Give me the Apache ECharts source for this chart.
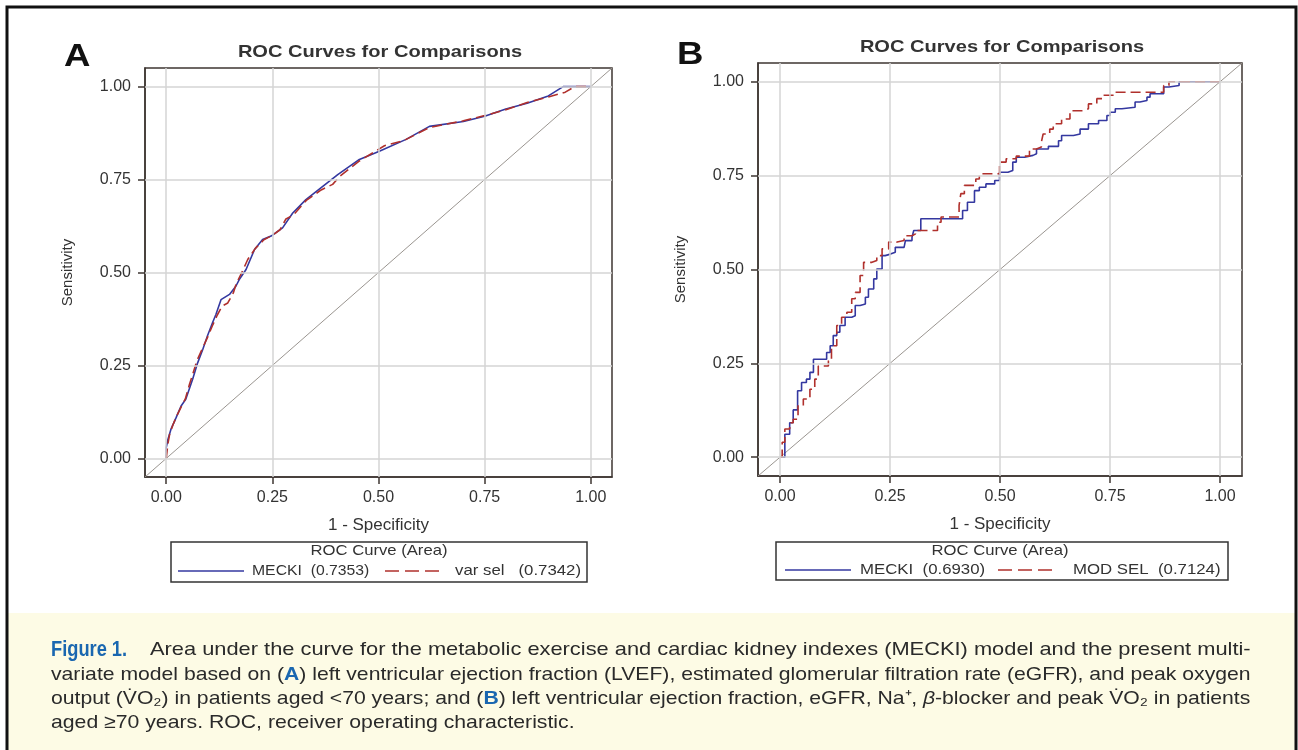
<!DOCTYPE html>
<html><head><meta charset="utf-8">
<script src="https://cdn.jsdelivr.net/npm/echarts@6/dist/echarts.min.js"></script>
<style>html,body{margin:0;padding:0;background:#fff}#c{width:1298px;height:750px}</style>
</head><body><div id="c"></div>
<script>
// ---- data ----
const tickValues = [0, 0.25, 0.5, 0.75, 1];
const diagonal = [[-0.05, -0.05], [1.05, 1.05]];
// Panel A (age < 70)
const mecA = [[0,0],[0,0.029],[0.004,0.051],[0.011,0.078],[0.023,0.109],[0.035,0.141],[0.046,0.159],[0.062,0.212],[0.074,0.257],[0.086,0.293],[0.097,0.329],[0.109,0.365],[0.117,0.387],[0.129,0.427],[0.149,0.441],[0.164,0.463],[0.172,0.481],[0.188,0.508],[0.208,0.562],[0.227,0.589],[0.247,0.598],[0.274,0.620],[0.298,0.660],[0.329,0.696],[0.365,0.728],[0.404,0.763],[0.455,0.804],[0.502,0.826],[0.565,0.858],[0.620,0.893],[0.700,0.906],[0.750,0.920],[0.800,0.940],[0.850,0.955],[0.900,0.975],[0.935,1.0],[1,1]];
const varSelA = [[0,0],[0.004,0.040],[0.008,0.065],[0.015,0.088],[0.025,0.115],[0.035,0.138],[0.045,0.160],[0.055,0.200],[0.062,0.225],[0.072,0.262],[0.085,0.295],[0.097,0.325],[0.110,0.360],[0.120,0.385],[0.132,0.410],[0.145,0.418],[0.158,0.445],[0.165,0.470],[0.178,0.500],[0.192,0.535],[0.210,0.565],[0.230,0.588],[0.250,0.600],[0.268,0.615],[0.282,0.644],[0.300,0.655],[0.330,0.694],[0.365,0.722],[0.392,0.737],[0.410,0.760],[0.455,0.800],[0.514,0.841],[0.560,0.855],[0.620,0.890],[0.700,0.908],[0.750,0.922],[0.800,0.938],[0.850,0.957],[0.900,0.972],[0.940,0.985],[0.962,1.0],[1,1]];
// Panel B (age >= 70)
const mecB = [[0,0],[0.011,0.061],[0.022,0.092],[0.030,0.126],[0.040,0.177],[0.049,0.199],[0.060,0.208],[0.068,0.226],[0.076,0.261],[0.106,0.279],[0.114,0.297],[0.121,0.324],[0.129,0.333],[0.136,0.351],[0.148,0.373],[0.163,0.377],[0.171,0.404],[0.182,0.408],[0.194,0.426],[0.201,0.448],[0.213,0.475],[0.220,0.501],[0.232,0.537],[0.239,0.541],[0.251,0.546],[0.262,0.559],[0.282,0.564],[0.285,0.577],[0.300,0.586],[0.304,0.604],[0.320,0.635],[0.415,0.657],[0.426,0.679],[0.442,0.710],[0.453,0.719],[0.468,0.728],[0.488,0.737],[0.499,0.759],[0.518,0.764],[0.529,0.786],[0.537,0.799],[0.556,0.804],[0.575,0.808],[0.583,0.821],[0.610,0.828],[0.633,0.843],[0.640,0.857],[0.667,0.861],[0.682,0.874],[0.701,0.888],[0.724,0.897],[0.743,0.910],[0.750,0.919],[0.762,0.928],[0.777,0.932],[0.807,0.946],[0.818,0.950],[0.834,0.959],[0.841,0.968],[0.872,0.986],[0.884,0.990],[0.907,1.0],[1,1]];
const modSelB = [[0,0],[0.005,0.040],[0.011,0.075],[0.022,0.092],[0.030,0.101],[0.041,0.137],[0.053,0.155],[0.068,0.181],[0.079,0.208],[0.087,0.243],[0.110,0.257],[0.117,0.297],[0.129,0.351],[0.140,0.373],[0.152,0.386],[0.163,0.422],[0.171,0.439],[0.182,0.484],[0.190,0.519],[0.209,0.524],[0.220,0.537],[0.232,0.555],[0.247,0.573],[0.266,0.577],[0.282,0.590],[0.300,0.595],[0.308,0.604],[0.358,0.626],[0.366,0.640],[0.407,0.671],[0.411,0.702],[0.419,0.724],[0.445,0.741],[0.453,0.755],[0.499,0.786],[0.514,0.795],[0.537,0.802],[0.567,0.821],[0.583,0.826],[0.594,0.839],[0.598,0.861],[0.613,0.874],[0.621,0.888],[0.640,0.901],[0.659,0.923],[0.690,0.928],[0.701,0.941],[0.720,0.955],[0.735,0.964],[0.762,0.972],[0.872,0.990],[0.884,1.0],[1,1]];
const panelLetters = ['A', 'B'];
const chartTitle = 'ROC Curves for Comparisons';
const xName = '1 - Specificity';
const yName = 'Sensitivity';
const legendTitle = 'ROC Curve (Area)';
const legendA = ['MECKI  (0.7353)', 'var sel   (0.7342)'];
const legendB = ['MECKI  (0.6930)', 'MOD SEL  (0.7124)'];
const captionLabel = 'Figure 1.';
const captionLines = [
  'Area under the curve for the metabolic exercise and cardiac kidney indexes (MECKI) model and the present multi-',
  'variate model based on ({b|A}) left ventricular ejection fraction (LVEF), estimated glomerular filtration rate (eGFR), and peak oxygen',
  'output (V\u0307O\u2082) in patients aged <70 years; and ({b|B}) left ventricular ejection fraction, eGFR, Na\u207A, {i|\u03B2}-blocker and peak V\u0307O\u2082 in patients',
  'aged \u226570 years. ROC, receiver operating characteristic.'
];

// ---- style ----
const FF = '"Liberation Sans", Arial, sans-serif';
const axisColor = '#3e3632';
const blue = '#3438a0';
const red = '#b0302c';
const gridColor = '#d4d4d4';
const txt = '#333';
const capBlue = '#1a67b0';
const captionScale = [1.149, 1.114, 1.114, 1.117];

function xAx(gi) {
  return {
    type: 'value', gridIndex: gi, min: -0.05, max: 1.05,
    name: xName, nameLocation: 'middle', nameGap: 40,
    nameTextStyle: {fontSize: 17, color: txt, fontFamily: FF},
    axisLine: {show: true, onZero: false, lineStyle: {color: axisColor, width: 1.5}},
    axisTick: {show: true, inside: false, length: 7, customValues: tickValues, lineStyle: {color: axisColor, width: 1.5}},
    axisLabel: {customValues: tickValues, formatter: v => v.toFixed(2), fontSize: 16, color: txt, fontFamily: FF, margin: 13},
    splitLine: {show: false}
  };
}
function yAx(gi) {
  return {
    type: 'value', gridIndex: gi, min: -0.05, max: 1.05,
    name: yName, nameLocation: 'middle', nameGap: 70, nameRotate: 90,
    nameTextStyle: {fontSize: 15, color: txt, fontFamily: FF},
    axisLine: {show: true, onZero: false, lineStyle: {color: axisColor, width: 1.5}},
    axisTick: {show: true, inside: false, length: 7, customValues: tickValues, lineStyle: {color: axisColor, width: 1.5}},
    axisLabel: {customValues: tickValues, formatter: v => v.toFixed(2), fontSize: 16, color: txt, fontFamily: FF, margin: 14},
    splitLine: {show: false}
  };
}
function gridLines() {
  const d = [];
  tickValues.forEach(v => { d.push({xAxis: v}); d.push({yAxis: v}); });
  return {silent: true, symbol: ['none', 'none'], label: {show: false},
    lineStyle: {color: gridColor, width: 1.5, type: 'solid'}, emphasis: {disabled: true}, data: d};
}
function diagSeries(gi) {
  return {type: 'line', xAxisIndex: gi, yAxisIndex: gi, data: diagonal, symbol: 'none', z: 1,
    lineStyle: {color: '#9a9590', width: 1}, silent: true, animation: false, markLine: gridLines()};
}
function curve(gi, data, color, dashed, step) {
  return {type: 'line', xAxisIndex: gi, yAxisIndex: gi, data: data, symbol: 'none', z: dashed ? 4 : 3,
    step: step, animation: false, silent: true,
    lineStyle: {color: color, width: 1.6, type: dashed ? [10, 5] : 'solid'}};
}
function T(x, y, text, font, sx, extra) {
  return Object.assign({type: 'text', x: x, y: y, scaleX: sx,
    style: Object.assign({text: text, font: font + ' ' + FF, fill: txt, verticalAlign: 'middle'}, extra || {})});
}

function legendBox(x, y, w, h, titleX, l1, t1x, l2, t2x, labels, ly, s1) {
  return [
    {type: 'rect', shape: {x: x, y: y, width: w, height: h}, style: {fill: 'none', stroke: '#333', lineWidth: 1.5}},
    T(titleX, y + 9, legendTitle, '15px', 1.11, {align: 'center'}),
    {type: 'line', shape: {x1: l1[0], y1: ly, x2: l1[1], y2: ly}, style: {stroke: blue, lineWidth: 1.4}},
    T(t1x, ly, labels[0], '15px', s1),
    {type: 'line', shape: {x1: l2[0], y1: ly, x2: l2[1], y2: ly}, style: {stroke: red, lineWidth: 1.4, lineDash: [14, 6]}},
    T(t2x, ly, labels[1], '15px', 1.12)
  ];
}

const rich = {
  b: {fontFamily: FF, fontWeight: 'bold', fontSize: 19, fill: capBlue},
  i: {fontFamily: FF, fontStyle: 'italic', fontSize: 19, fill: '#2a2a2a'}
};

const graphics = [
  {type: 'rect', z: -10, shape: {x: 8, y: 613, width: 1288, height: 140}, style: {fill: '#fdfbe5'}},
  {type: 'rect', z: 10, shape: {x: 7, y: 7, width: 1289, height: 760}, style: {fill: 'none', stroke: '#111', lineWidth: 3}},
  T(64, 57, panelLetters[0], 'bold 31px', 1.18, {fill: '#111'}),
  T(677, 55, panelLetters[1], 'bold 31px', 1.18, {fill: '#111'}),
  T(380, 52, chartTitle, 'bold 17px', 1.18, {align: 'center'}),
  T(1002, 47, chartTitle, 'bold 17px', 1.18, {align: 'center'}),
  T(51, 650, captionLabel, 'bold 22px', 0.83, {fill: capBlue})
].concat(
  legendBox(171, 542, 416, 40, 379, [178, 244], 252, [385, 443], 455, legendA, 571, 1.05),
  legendBox(776, 542, 452, 38, 1000, [785, 851], 860, [998, 1057], 1073, legendB, 570, 1.12),
  captionLines.map((t, k) => T(k === 0 ? 150 : 51, 650 + k * 24.3, t, '19px', captionScale[k], {fill: '#2a2a2a', rich: rich}))
);

const chart = echarts.init(document.getElementById('c'), null, {renderer: 'canvas'});
chart.setOption({
  animation: false,
  backgroundColor: '#fff',
  grid: [
    {left: 145, top: 68, width: 467, height: 409, show: true, borderColor: axisColor, borderWidth: 1.5, backgroundColor: 'transparent'},
    {left: 758, top: 63, width: 484, height: 413, show: true, borderColor: axisColor, borderWidth: 1.5, backgroundColor: 'transparent'}
  ],
  xAxis: [xAx(0), xAx(1)],
  yAxis: [yAx(0), yAx(1)],
  series: [
    diagSeries(0), diagSeries(1),
    curve(0, mecA, blue, false, false),
    curve(0, varSelA, red, true, false),
    curve(1, mecB, blue, false, 'end'),
    curve(1, modSelB, red, true, 'end')
  ],
  graphic: graphics
});
</script>
</body></html>
